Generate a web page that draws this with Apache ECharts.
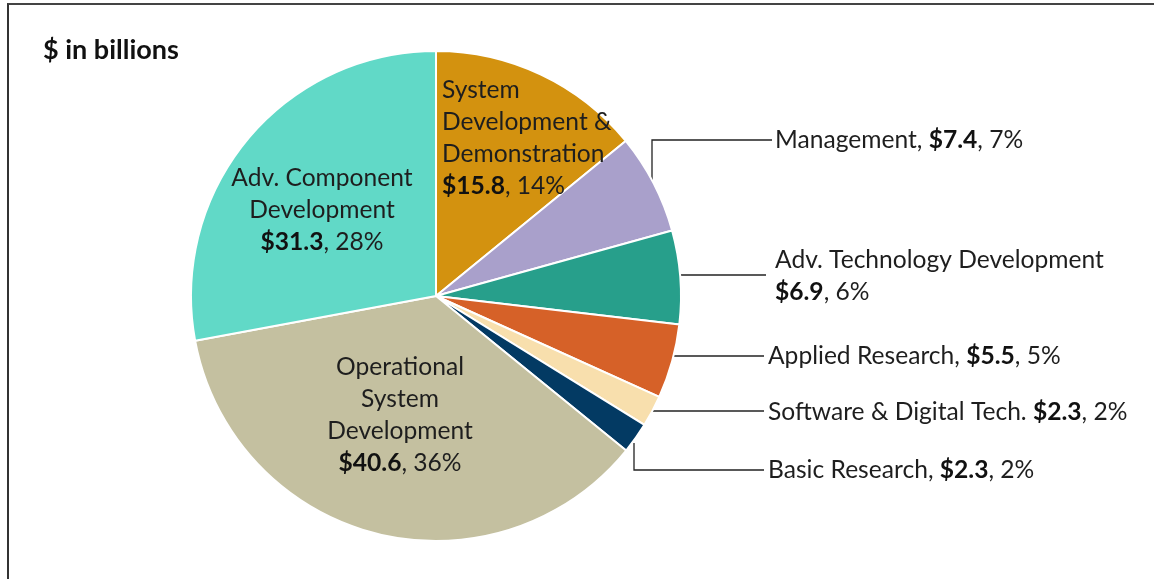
<!DOCTYPE html>
<html>
<head>
<meta charset="utf-8">
<script src="https://cdn.jsdelivr.net/npm/echarts@6/dist/echarts.min.js"></script>
<style>
    html, body {
        margin: 0;
        padding: 0;
        background: #fff;
    }
    #frame {
        position: absolute;
        left: 7px;
        top: 3px;
        width: 1200px;
        height: 620px;
        border-left: 2px solid #333;
        border-top: 2px solid #444;
    }
    #main {
        position: absolute;
        left: 0;
        top: 0;
        width: 1154px;
        height: 579px;
    }
</style>
</head>
<body>
<div id="frame"></div>
<div id="main"></div>
<script>
    // budget by category, $ billions (clockwise from 12 o'clock)
    const categories = ['System Development & Demonstration', 'Management', 'Adv. Technology Development',
        'Applied Research', 'Software & Digital Tech.', 'Basic Research',
        'Operational System Development', 'Adv. Component Development'];
    const values = [15.8, 7.4, 6.9, 5.5, 2.3, 2.3, 40.6, 31.3];
    const colors = ['#D3920F', '#A9A0CB', '#279F8B', '#D66128', '#F8DFAD', '#033A63', '#C4C0A0', '#61D9C7'];
    // label text before the value
    const labelHeads = ['System\nDevelopment &\nDemonstration\n', 'Management, ', 'Adv. Technology Development\n',
        'Applied Research, ', 'Software & Digital Tech. ', 'Basic Research, ',
        'Operational\nSystem\nDevelopment\n', 'Adv. Component\nDevelopment\n'];
    const insideLabel = [true, false, false, false, false, false, true, true];

    // where each label goes (pixels)
    const spots = [
        { x: 442, y: 138, align: 'left' },
        { x: 775, y: 140, align: 'left', line: [[652, 184], [652, 140], [772, 140]] },
        { x: 775, y: 276, align: 'left', line: [[679, 275], [766, 275]] },
        { x: 768, y: 356, align: 'left', line: [[672, 356], [764, 356]] },
        { x: 768, y: 412, align: 'left', line: [[652, 411], [764, 411]] },
        { x: 768, y: 470, align: 'left', line: [[634, 443], [634, 470], [764, 470]] },
        { x: 400, y: 415, align: 'center' },
        { x: 322, y: 210, align: 'center' }
    ];

    const font = 'Lato, "Liberation Sans", sans-serif';

    var myChart = echarts.init(document.getElementById('main'));

    myChart.setOption({
        animation: false,
        title: {
            text: '$ in billions',
            left: 38,
            top: 32,
            textStyle: {
                fontFamily: font,
                fontSize: 27,
                fontWeight: 'bold',
                color: '#111'
            }
        },
        series: [
            {
                type: 'pie',
                center: [436, 296],
                radius: [0, 245],
                startAngle: 90,
                clockwise: true,
                percentPrecision: 0,
                itemStyle: {
                    borderColor: '#fff',
                    borderWidth: 2
                },
                label: {
                    fontFamily: font,
                    fontSize: 24.6,
                    lineHeight: 32,
                    color: '#1e1e1e',
                    formatter: function (p) {
                        return labelHeads[p.dataIndex] + '{b|$' + p.value.toFixed(1) + '}, ' + p.percent + '%';
                    },
                    rich: {
                        b: {
                            fontFamily: font,
                            fontSize: 24.6,
                            lineHeight: 32,
                            fontWeight: 'bold',
                            color: '#111'
                        }
                    }
                },
                labelLine: {
                    show: true,
                    lineStyle: {
                        color: '#222',
                        width: 1.3
                    }
                },
                labelLayout: function (params) {
                    const s = spots[params.dataIndex];
                    const out = {
                        x: s.x,
                        y: s.y,
                        align: s.align,
                        verticalAlign: 'middle'
                    };
                    if (s.line) {
                        out.labelLinePoints = s.line;
                    }
                    return out;
                },
                data: categories.map(function (name, i) {
                    return {
                        name: name,
                        value: values[i],
                        itemStyle: { color: colors[i] },
                        label: { position: insideLabel[i] ? 'inside' : 'outside' },
                        labelLine: { show: !insideLabel[i] }
                    };
                })
            }
        ]
    });
</script>
</body>
</html>
